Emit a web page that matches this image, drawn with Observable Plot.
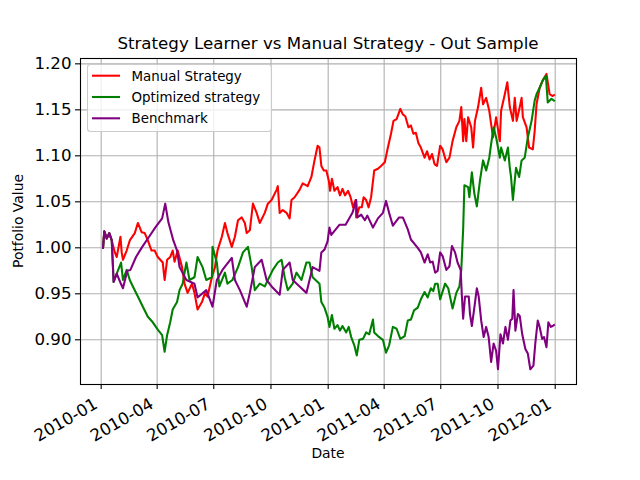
<!DOCTYPE html>
<html>
<head>
<meta charset="utf-8">
<script src="https://cdn.jsdelivr.net/npm/d3@7"></script>
<script src="https://cdn.jsdelivr.net/npm/@observablehq/plot@0.6"></script>
<style>
  html, body { margin: 0; padding: 0; background: white; }
  #chart { width: 640px; height: 480px; position: relative; }
</style>
</head>
<body>
<div id="chart"></div>
<script>
const seriesNames = ["Manual Strategy", "Optimized strategy", "Benchmark"];
const seriesColors = ["red", "green", "purple"];

const manualDates = ["2010-01-04","2010-01-06","2010-01-10","2010-01-14","2010-01-18","2010-01-23","2010-01-26","2010-02-01","2010-02-03","2010-02-05","2010-02-11","2010-02-16","2010-02-24","2010-03-01","2010-03-07","2010-03-12","2010-03-17","2010-03-23","2010-03-28","2010-04-02","2010-04-10","2010-04-13","2010-04-17","2010-04-22","2010-04-26","2010-04-29","2010-05-04","2010-05-11","2010-05-15","2010-05-20","2010-05-27","2010-05-31","2010-06-05","2010-06-12","2010-06-17","2010-06-21","2010-06-28","2010-07-03","2010-07-07","2010-07-14","2010-07-19","2010-07-23","2010-07-30","2010-08-04","2010-08-09","2010-08-15","2010-08-20","2010-08-23","2010-08-28","2010-09-02","2010-09-08","2010-09-13","2010-09-21","2010-09-26","2010-10-02","2010-10-10","2010-10-12","2010-10-15","2010-10-20","2010-10-26","2010-10-31","2010-11-03","2010-11-08","2010-11-16","2010-11-21","2010-11-29","2010-12-05","2010-12-10","2010-12-15","2010-12-18","2010-12-21","2010-12-25","2010-12-29",
  "2011-01-02","2011-01-04","2011-01-07","2011-01-11","2011-01-16","2011-01-20","2011-01-24","2011-01-28","2011-02-02","2011-02-06","2011-02-10","2011-02-14","2011-02-15","2011-02-20","2011-02-24","2011-02-27","2011-03-03","2011-03-07","2011-03-11","2011-03-16","2011-03-22","2011-03-27","2011-04-02","2011-04-07","2011-04-12","2011-04-16","2011-04-21","2011-04-27","2011-05-01","2011-05-05","2011-05-10","2011-05-14","2011-05-18","2011-05-22","2011-05-26","2011-05-30","2011-06-05","2011-06-09","2011-06-13","2011-06-17","2011-06-21","2011-06-25",
  "2011-06-30","2011-07-04","2011-07-10","2011-07-15","2011-07-20","2011-07-26","2011-07-31","2011-08-03","2011-08-06","2011-08-08","2011-08-11","2011-08-14","2011-08-19","2011-08-22","2011-08-25","2011-08-30","2011-09-04","2011-09-07","2011-09-12","2011-09-17","2011-09-23","2011-09-28","2011-10-04","2011-10-06","2011-10-12","2011-10-16","2011-10-20","2011-10-25","2011-10-28","2011-10-31","2011-11-05","2011-11-08","2011-11-10","2011-11-16","2011-11-20","2011-11-26","2011-11-29","2011-12-02","2011-12-07","2011-12-12","2011-12-18","2011-12-23","2011-12-28","2011-12-30"];
const manualValues = [1.000,1.018,1.010,1.016,1.008,0.995,0.990,1.012,0.995,0.987,0.997,1.008,1.016,1.027,1.017,1.016,1.008,0.997,0.997,0.990,0.984,0.965,0.987,0.990,0.997,0.985,0.997,0.979,0.961,0.951,0.961,0.951,0.933,0.941,0.951,0.947,0.968,0.979,0.997,1.012,1.027,1.016,1.001,1.012,1.030,1.033,1.027,1.016,1.019,1.048,1.038,1.027,1.038,1.048,1.052,1.063,1.067,1.038,1.041,1.038,1.032,1.052,1.055,1.063,1.070,1.067,1.077,1.095,1.111,1.109,1.089,1.084,1.084,
  1.073,1.062,1.075,1.062,1.066,1.057,1.064,1.057,1.062,1.055,1.044,1.052,1.033,1.044,1.044,1.055,1.052,1.044,1.055,1.084,1.086,1.089,1.093,1.109,1.124,1.138,1.140,1.151,1.145,1.143,1.131,1.133,1.124,1.125,1.114,1.109,1.098,1.105,1.096,1.102,1.091,1.089,
  1.111,1.107,1.093,1.098,1.116,1.131,1.138,1.153,1.116,1.140,1.116,1.142,1.131,1.109,1.138,1.153,1.174,1.156,1.163,1.149,1.120,1.142,1.116,1.149,1.167,1.180,1.153,1.138,1.163,1.138,1.153,1.163,1.142,1.131,1.109,1.107,1.127,1.156,1.174,1.182,1.189,1.167,1.165,1.166];

const optimizedDates = ["2010-01-04","2010-01-06","2010-01-10","2010-01-14","2010-01-18","2010-01-21","2010-01-26","2010-02-02","2010-02-05","2010-02-11","2010-02-16","2010-02-21","2010-03-01","2010-03-09","2010-03-17","2010-03-25","2010-04-02","2010-04-09","2010-04-13","2010-04-17","2010-04-22","2010-04-26","2010-05-03","2010-05-07","2010-05-12","2010-05-18","2010-05-23","2010-05-31","2010-06-05","2010-06-13","2010-06-19","2010-06-28","2010-06-29","2010-07-06","2010-07-10","2010-07-19","2010-07-23","2010-07-31","2010-08-09","2010-08-17","2010-08-25","2010-08-31","2010-09-05","2010-09-13","2010-09-21","2010-09-26","2010-10-04","2010-10-12","2010-10-18","2010-10-23","2010-10-28","2010-11-05","2010-11-11","2010-11-19","2010-11-27","2010-12-02","2010-12-07","2010-12-18","2010-12-21","2010-12-26","2010-12-31",
  "2011-01-03","2011-01-07","2011-01-11","2011-01-16","2011-01-20","2011-01-24","2011-01-30","2011-02-03","2011-02-07","2011-02-12","2011-02-16","2011-02-20","2011-02-26","2011-03-03","2011-03-08","2011-03-14","2011-03-16","2011-03-22","2011-03-30","2011-04-04","2011-04-09","2011-04-15","2011-04-21","2011-04-27","2011-05-04","2011-05-09","2011-05-14","2011-05-19","2011-05-25","2011-05-30","2011-06-05","2011-06-10","2011-06-15","2011-06-19","2011-06-22","2011-06-26",
  "2011-06-30","2011-07-08","2011-07-13","2011-07-20","2011-07-26","2011-07-31","2011-08-03","2011-08-06","2011-08-08","2011-08-14","2011-08-16","2011-08-20","2011-08-24","2011-08-28","2011-09-02","2011-09-07","2011-09-12","2011-09-17","2011-09-20","2011-09-24","2011-09-28","2011-10-04","2011-10-06","2011-10-12","2011-10-17","2011-10-20","2011-10-22","2011-10-25","2011-10-30","2011-11-04","2011-11-08","2011-11-13","2011-11-18","2011-11-24","2011-11-29","2011-12-02","2011-12-07","2011-12-12","2011-12-17","2011-12-20","2011-12-26","2011-12-30"];
const optimizedValues = [1.000,1.018,1.010,1.016,1.008,0.963,0.972,0.984,0.965,0.976,0.965,0.958,0.947,0.936,0.925,0.919,0.911,0.905,0.887,0.905,0.919,0.933,0.941,0.954,0.961,0.984,0.965,0.968,0.990,0.979,0.965,0.968,1.001,0.984,0.958,0.973,0.961,0.965,0.979,0.995,1.001,0.979,0.954,0.961,0.958,0.965,0.976,0.984,0.987,0.968,0.954,0.961,0.973,0.965,0.984,0.984,0.968,0.961,0.941,0.935,0.925,
  0.914,0.927,0.912,0.916,0.910,0.915,0.908,0.914,0.903,0.894,0.883,0.900,0.901,0.908,0.906,0.922,0.908,0.904,0.900,0.886,0.894,0.914,0.912,0.901,0.904,0.921,0.922,0.932,0.935,0.944,0.952,0.946,0.956,0.953,0.961,0.961,
  0.944,0.961,0.956,0.934,0.951,0.958,0.976,1.020,1.068,1.066,1.055,1.082,1.059,1.045,1.073,1.095,1.084,1.098,1.113,1.131,1.120,1.098,1.109,1.095,1.109,1.087,1.077,1.052,1.087,1.077,1.095,1.098,1.120,1.138,1.160,1.167,1.174,1.182,1.187,1.158,1.162,1.160];

const benchmarkDates = ["2010-01-04","2010-01-06","2010-01-10","2010-01-14","2010-01-18","2010-01-21","2010-01-26","2010-02-01","2010-02-05","2010-02-12","2010-02-17","2010-02-26","2010-03-08","2010-03-19","2010-03-30","2010-04-09","2010-04-14","2010-04-19","2010-04-27","2010-05-03","2010-05-07","2010-05-18","2010-05-31","2010-06-05","2010-06-19","2010-06-29","2010-07-06","2010-07-15","2010-07-30","2010-08-04","2010-08-12","2010-08-23","2010-08-28","2010-09-05","2010-09-16","2010-09-24","2010-10-02","2010-10-15","2010-10-20","2010-10-31","2010-11-05","2010-11-16","2010-11-27","2010-12-07","2010-12-18","2010-12-21","2010-12-26","2010-12-31",
  "2011-01-03","2011-01-06","2011-01-19","2011-01-29","2011-02-09","2011-02-15","2011-02-17","2011-02-23","2011-03-01","2011-03-05","2011-03-14","2011-03-22","2011-03-30","2011-04-04","2011-04-09","2011-04-15","2011-04-25","2011-05-01","2011-05-06","2011-05-09","2011-05-14","2011-05-25","2011-05-30","2011-06-05","2011-06-10","2011-06-14","2011-06-18","2011-06-22","2011-06-26",
  "2011-06-30","2011-07-04","2011-07-10","2011-07-15","2011-07-19","2011-07-24","2011-07-28","2011-08-02","2011-08-04","2011-08-06","2011-08-09","2011-08-15","2011-08-17","2011-08-20","2011-08-24","2011-08-28","2011-08-31","2011-09-04","2011-09-08","2011-09-12","2011-09-16","2011-09-20","2011-09-24","2011-09-28","2011-10-01","2011-10-05","2011-10-09","2011-10-13","2011-10-17","2011-10-21","2011-10-24","2011-10-26","2011-10-29","2011-11-02","2011-11-05","2011-11-09","2011-11-14","2011-11-18","2011-11-22","2011-11-27","2011-11-30","2011-12-04","2011-12-07","2011-12-11","2011-12-14","2011-12-18","2011-12-21","2011-12-25","2011-12-28","2011-12-30"];
const benchmarkValues = [1.000,1.018,1.010,1.016,1.008,0.963,0.972,0.962,0.956,0.975,0.976,0.990,1.001,1.012,1.023,1.032,1.048,1.028,1.008,0.997,0.979,0.965,0.961,0.946,0.954,0.936,0.965,0.976,0.989,0.965,0.954,0.936,0.951,0.979,0.987,0.965,0.958,0.949,0.976,0.984,0.965,0.958,0.951,0.979,0.975,0.995,0.998,1.007,
  1.022,1.014,1.025,1.025,1.038,1.052,1.033,1.036,1.030,1.035,1.022,1.032,1.038,1.051,1.038,1.024,1.033,1.033,1.025,1.020,1.009,1.000,0.995,0.984,0.993,0.984,0.985,0.973,0.975,
  0.995,0.991,0.976,0.980,1.002,0.995,0.984,0.976,0.947,0.923,0.947,0.947,0.928,0.915,0.935,0.956,0.947,0.921,0.903,0.914,0.903,0.876,0.896,0.888,0.868,0.906,0.896,0.914,0.900,0.921,0.923,0.954,0.910,0.928,0.926,0.906,0.890,0.885,0.868,0.872,0.896,0.921,0.914,0.901,0.903,0.892,0.919,0.914,0.915,0.916];

const xTickLabels = ["2010-01","2010-04","2010-07","2010-10","2011-01","2011-04","2011-07","2011-10","2012-01"];
const yTickValues = [0.90, 0.95, 1.00, 1.05, 1.10, 1.15, 1.20];

function rows(dates, values, name) {
  const n = Math.min(dates.length, values.length);
  const out = [];
  for (let i = 0; i < n; i++) out.push({date: new Date(dates[i] + "T00:00:00Z"), value: values[i], series: name});
  return out;
}
const manualRows = rows(manualDates, manualValues, seriesNames[0]);
const optimizedRows = rows(optimizedDates, optimizedValues, seriesNames[1]);
const benchmarkRows = rows(benchmarkDates, benchmarkValues, seriesNames[2]);
const xTicks = xTickLabels.map(s => new Date(s + "-01T00:00:00Z"));

const lineStyle = {x: "date", y: "value", strokeWidth: 2.08, strokeLinejoin: "round", strokeLinecap: "square"};
const FONT = "'DejaVu Sans', sans-serif";

const chart = Plot.plot({
  width: 640,
  height: 480,
  marginTop: 58,
  marginBottom: 96,
  marginLeft: 80,
  marginRight: 64,
  style: {fontFamily: FONT, fontSize: "16.67px", background: "white", color: "black", overflow: "visible"},
  x: {type: "utc", domain: [new Date("2009-11-28T18:00:00Z"), new Date("2012-02-04T06:00:00Z")]},
  y: {domain: [0.8514, 1.2058]},
  marks: [
    Plot.gridX(xTicks, {stroke: "#b0b0b0", strokeOpacity: 1, strokeWidth: 1.1}),
    Plot.gridY(yTickValues, {stroke: "#b0b0b0", strokeOpacity: 1, strokeWidth: 1.1}),
    Plot.line(manualRows, {...lineStyle, stroke: seriesColors[0]}),
    Plot.line(optimizedRows, {...lineStyle, stroke: seriesColors[1]}),
    Plot.line(benchmarkRows, {...lineStyle, stroke: seriesColors[2]}),
    Plot.frame({stroke: "black", strokeWidth: 1.1}),
    Plot.axisY(yTickValues, {tickSize: 5, tickPadding: 4, tickFormat: d3.format(".2f"), label: null, fontSize: 16.67, stroke: "black", strokeWidth: 1.1}),
    Plot.axisX(xTicks, {tickSize: 5, tickFormat: () => "", label: null, stroke: "black", strokeWidth: 1.1})
  ]
});

const container = document.getElementById("chart");
container.appendChild(chart);

const svg = d3.select(chart);
const xs = chart.scale("x");
const frameBottom = 480 - 96;

// Rotated x tick labels (matplotlib style: rotation 30, right aligned)
const tl = svg.append("g");
xTickLabels.forEach((label, i) => {
  const px = xs.apply(xTicks[i]);
  tl.append("text")
    .attr("transform", `translate(${px - 1.9},${frameBottom + 23.3}) rotate(-30)`)
    .attr("text-anchor", "end")
    .style("font-family", FONT)
    .style("font-size", "16.67px")
    .attr("fill", "black")
    .text(label);
});

// Title
svg.append("text")
  .attr("x", 328).attr("y", 49)
  .attr("text-anchor", "middle")
  .style("font-family", FONT)
  .style("font-size", "16.67px")
  .attr("fill", "black")
  .text("Strategy Learner vs Manual Strategy - Out Sample");
// Axis labels
svg.append("text")
  .attr("x", 328).attr("y", 458)
  .attr("text-anchor", "middle")
  .style("font-family", FONT)
  .style("font-size", "13.9px")
  .attr("fill", "black")
  .text("Date");
svg.append("text")
  .attr("transform", "translate(23,221) rotate(-90)")
  .attr("text-anchor", "middle")
  .style("font-family", FONT)
  .style("font-size", "13.9px")
  .attr("fill", "black")
  .text("Potfolio Value");
// Legend
const lg = svg.append("g");
lg.append("rect")
  .attr("x", 87.5).attr("y", 64.5).attr("width", 184).attr("height", 67)
  .attr("rx", 3).attr("fill", "white").attr("fill-opacity", 0.8)
  .attr("stroke", "#cccccc").attr("stroke-width", 1.1);
seriesNames.forEach((name, i) => {
  const yy = 75.7 + i * 21.3;
  lg.append("line").attr("x1", 92).attr("x2", 120).attr("y1", yy).attr("y2", yy)
    .attr("stroke", seriesColors[i]).attr("stroke-width", 2.08);
  lg.append("text").attr("x", 131.5).attr("y", yy + 4.8)
    .attr("text-anchor", "start")
    .style("font-family", FONT)
    .style("font-size", "13.4px")
    .attr("fill", "black")
    .text(name);
});
</script>
</body>
</html>
